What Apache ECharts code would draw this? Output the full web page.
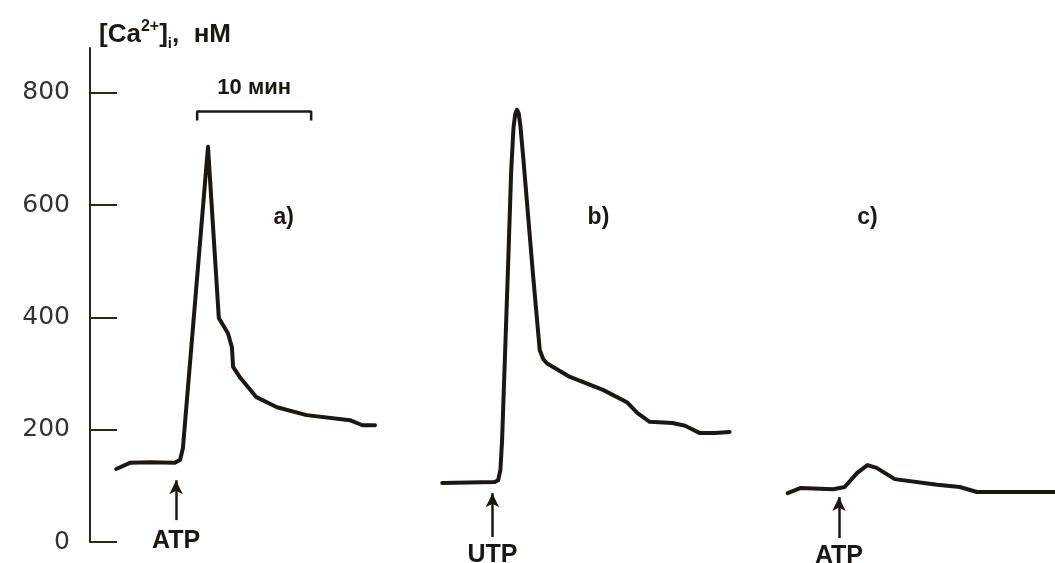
<!DOCTYPE html>
<html>
<head>
<meta charset="utf-8">
<script src="https://cdn.jsdelivr.net/npm/echarts@6/dist/echarts.min.js"></script>
<style>
    html, body { margin: 0; padding: 0; background: #fff; }
    #chart { width: 1055px; height: 563px; }
</style>
</head>
<body>
<div id="chart"></div>
<script>
// time in minutes, [Ca2+]i in nM
var trace_a = [[2.3, 130], [3.5, 141], [5.3, 142], [7.4, 141], [7.9, 146], [8.15, 167],
    [10.35, 704], [11.3, 399], [12.1, 372], [12.45, 347], [12.55, 312], [13.2, 292],
    [14.6, 258], [16.4, 240], [19.0, 226], [22.8, 217], [23.9, 208], [25.0, 208]];
var trace_b = [[30.9, 105], [35.5, 107], [35.8, 110], [36.0, 128], [36.15, 182], [36.4, 330],
    [36.7, 508], [36.95, 663], [37.15, 738], [37.3, 762], [37.45, 770], [37.6, 764],
    [37.75, 742], [38.0, 686], [38.85, 479], [39.45, 342], [39.75, 326], [40.1, 318],
    [42.1, 294], [45.0, 271], [47.1, 249], [48.0, 230], [49.1, 214], [51.1, 212],
    [52.2, 207], [53.5, 194], [54.8, 194], [56.1, 196]];
var trace_c = [[61.2, 87], [62.3, 96], [65.2, 94], [66.2, 98], [67.3, 123], [68.2, 137],
    [69.0, 132], [70.6, 112], [74.3, 102], [76.3, 98], [77.8, 89], [84.7, 89]];

var y_ticks = [0, 200, 400, 600, 800];

// stimulus arrows: name, time, arrow foot and tip (nM)
var stim_names = ['ATP', 'UTP', 'ATP'];
var stim_times = [7.55, 35.3, 65.7];
var stim_foot = [39, 9, 7];
var stim_tip = [110, 87, 80];

// panel letters
var panel_names = ['a)', 'b)', 'c)'];
var panel_times = [17.0, 44.6, 68.2];
var panel_level = 577;

// 10 min scale bar
var scale_start = 9.4;
var scale_len = 10;
var scale_level = 767;
var scale_drop = 16;

var INK = '#1b1713';

function traceSeries(data, i) {
    return {
        type: 'line',
        data: data,
        showSymbol: false,
        symbol: 'none',
        clip: false,
        lineStyle: { color: INK, width: 4, join: 'round', cap: 'round' },
        markLine: {
            silent: true,
            symbol: ['none', 'arrow'],
            symbolSize: [10, 14],
            lineStyle: { color: INK, width: 2.5, type: 'solid' },
            label: {
                show: true,
                position: 'start',
                distance: i == 0 ? 9 : 6,
                formatter: stim_names[i],
                color: INK,
                fontSize: 25,
                fontWeight: 'bold',
                fontFamily: 'Liberation Sans'
            },
            data: [[
                { coord: [stim_times[i], stim_foot[i]] },
                { coord: [stim_times[i], stim_tip[i]] }
            ]]
        },
        markPoint: {
            silent: true,
            symbol: 'circle',
            symbolSize: 0,
            label: {
                show: true,
                position: 'inside',
                formatter: panel_names[i],
                color: INK,
                fontSize: 23,
                fontWeight: 'bold',
                fontFamily: 'Liberation Sans'
            },
            data: [{ coord: [panel_times[i], panel_level] }]
        }
    };
}

var scale_data = [
    [scale_start, scale_level - scale_drop],
    [scale_start, scale_level],
    [scale_start + scale_len, scale_level],
    [scale_start + scale_len, scale_level - scale_drop]
];

var chart = echarts.init(document.getElementById('chart'));

chart.setOption({
    animation: false,
    backgroundColor: '#fff',
    title: {
        left: 94,
        top: 14,
        text: '[Ca{sup|2+}]{sub|i},  нМ',
        textStyle: {
            fontFamily: 'Liberation Sans',
            fontSize: 26,
            fontWeight: 'bold',
            color: INK,
            rich: {
                sup: { fontSize: 16, fontWeight: 'bold', fontFamily: 'Liberation Sans', color: INK, verticalAlign: 'top', lineHeight: 32 },
                sub: { fontSize: 15, fontWeight: 'bold', fontFamily: 'Liberation Sans', color: INK, verticalAlign: 'bottom', lineHeight: 21 }
            }
        }
    },
    grid: { left: 90, right: 0, top: 48, bottom: 21, containLabel: false },
    xAxis: { type: 'value', min: 0, max: 84.65, show: false },
    yAxis: {
        type: 'value',
        min: 0,
        max: 880,
        interval: 200,
        axisLine: { show: true, lineStyle: { color: '#2a2622', width: 2 } },
        axisTick: { show: true, inside: true, length: 27, customValues: y_ticks, lineStyle: { color: '#2a2622', width: 2 } },
        axisLabel: { customValues: y_ticks, margin: 20, fontSize: 25, color: '#333', fontFamily: 'DejaVu Sans' },
        splitLine: { show: false }
    },
    series: [
        traceSeries(trace_a, 0),
        traceSeries(trace_b, 1),
        traceSeries(trace_c, 2),
        {
            type: 'line',
            data: scale_data,
            symbol: 'none',
            clip: false,
            lineStyle: { color: INK, width: 2.5 },
            markPoint: {
                silent: true,
                symbol: 'circle',
                symbolSize: 0,
                label: {
                    show: true,
                    position: 'top',
                    distance: 12,
                    formatter: scale_len + ' мин',
                    color: INK,
                    fontSize: 22,
                    fontWeight: 'bold',
                    fontFamily: 'Liberation Sans'
                },
                data: [{ coord: [scale_start + scale_len / 2, scale_level] }]
            }
        }
    ]
});
</script>
</body>
</html>
